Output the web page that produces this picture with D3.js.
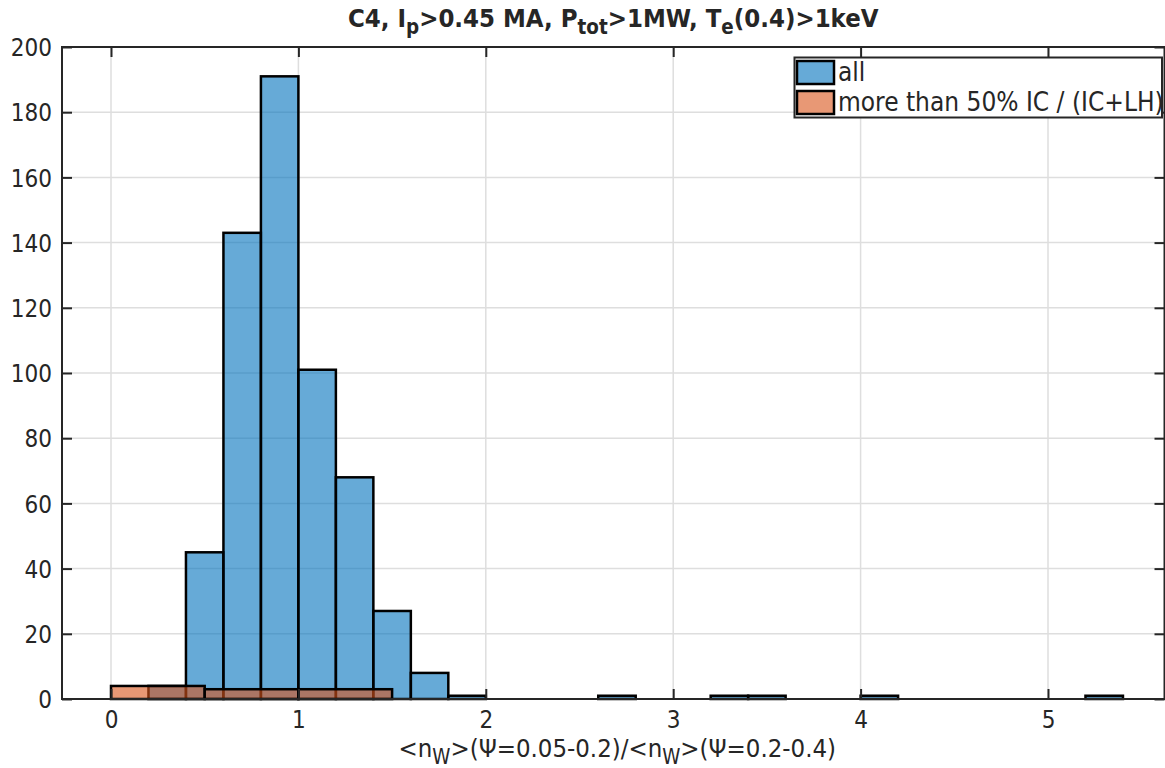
<!DOCTYPE html>
<html>
<head>
<meta charset="utf-8">
<script src="https://cdn.jsdelivr.net/npm/d3@7"></script>
<style>
  html, body { margin: 0; padding: 0; background: #fff; }
  svg { display: block; }
  text { font-family: "DejaVu Sans Condensed", "DejaVu Sans", sans-serif; font-stretch: condensed; fill: #262626; }
</style>
</head>
<body>
<svg id="chart" width="1165" height="768"></svg>
<script>
// ---- data ----
const binWidthAll = 0.2;
const binStartsAll = [0.2, 0.4, 0.6, 0.8, 1.0, 1.2, 1.4, 1.6, 1.8, 2.0, 2.2, 2.4, 2.6, 2.8, 3.0, 3.2, 3.4, 3.6, 3.8, 4.0, 4.2, 4.4, 4.6, 4.8, 5.0, 5.2];
const countsAll     = [4,   45,  143, 191, 101, 68,  27,  8,   1,   0,   0,   0,   1,   0,   0,   1,   1,   0,   0,   1,   0,   0,   0,   0,   0,   1];
const binWidthIC = 0.5;
const binStartsIC = [0.0, 0.5, 1.0];
const countsIC    = [4, 3, 3];
const xTicks = [0, 1, 2, 3, 4, 5];
const yTicks = [0, 20, 40, 60, 80, 100, 120, 140, 160, 180, 200];
const seriesNames = ["all", "more than 50% IC / (IC+LH)"];
const seriesColors = ["#0072BD", "#D95319"];

// ---- layout ----
const svg = d3.select("#chart");
const L = 62, R = 1164.5, T = 47, B = 699;
const x = d3.scaleLinear().domain([0, 5]).range([111, 1048]);
const xDom = [x.invert(L), x.invert(R)];
x.domain(xDom).range([L, R]);
const y = d3.scaleLinear().domain([0, 200]).range([B, T]);

// grid
const grid = svg.append("g");
grid.selectAll("line.gx").data(xTicks).join("line")
  .attr("x1", d => x(d)).attr("x2", d => x(d)).attr("y1", T).attr("y2", B)
  .attr("stroke", "#dedede").attr("stroke-width", 1.5);
grid.selectAll("line.gy").data(yTicks).join("line")
  .attr("y1", d => y(d)).attr("y2", d => y(d)).attr("x1", L).attr("x2", R)
  .attr("stroke", "#dedede").attr("stroke-width", 1.5);

// bars
function drawHist(starts, counts, w, color) {
  svg.append("g").selectAll("rect").data(starts.map((s, i) => ({s, c: counts[i]}))).join("rect")
    .attr("x", d => x(d.s)).attr("width", d => x(d.s + w) - x(d.s))
    .attr("y", d => y(d.c)).attr("height", d => y(0) - y(d.c))
    .attr("fill", color).attr("fill-opacity", 0.6)
    .attr("stroke", "#000").attr("stroke-width", 2.5);
}
drawHist(binStartsAll, countsAll, binWidthAll, seriesColors[0]);
drawHist(binStartsIC, countsIC, binWidthIC, seriesColors[1]);

// axes box + ticks
const ax = svg.append("g");
ax.append("rect").attr("x", L).attr("y", T).attr("width", R - L).attr("height", B - T)
  .attr("fill", "none").attr("stroke", "#262626").attr("stroke-width", 2);
const tl = 10;
const axB = d3.axisBottom(x).tickValues(xTicks).tickSizeInner(-tl).tickSizeOuter(0).tickPadding(12).tickFormat(d3.format("d"));
const axT = d3.axisTop(x).tickValues(xTicks).tickSizeInner(-tl).tickSizeOuter(0);
const axL = d3.axisLeft(y).tickValues(yTicks).tickSizeInner(-tl).tickSizeOuter(0).tickPadding(10).tickFormat(d3.format("d"));
const axR = d3.axisRight(y).tickValues(yTicks).tickSizeInner(-tl).tickSizeOuter(0);
function styleAxis(g) {
  g.select(".domain").remove();
  g.selectAll(".tick line").attr("stroke", "#262626").attr("stroke-width", 2);
  g.selectAll(".tick text").attr("fill", "#262626").style("font-size", "24px")
   .style("font-family", "'DejaVu Sans Condensed', 'DejaVu Sans', sans-serif");
}
function noLabels(g) { g.selectAll(".tick text").remove(); }
const gB = ax.append("g").attr("transform", `translate(0,${B})`).call(axB).call(styleAxis);
ax.append("g").attr("transform", `translate(0,${T})`).call(axT).call(styleAxis).call(noLabels);
const gL = ax.append("g").attr("transform", `translate(${L},0)`).call(axL).call(styleAxis);
ax.append("g").attr("transform", `translate(${R},0)`).call(axR).call(styleAxis).call(noLabels);
gB.selectAll(".tick text").attr("dy", "0.71em");
gL.selectAll(".tick text").attr("dy", "0.36em");

// text with subscripts
function addParts(t, parts, sub) {
  let pending = 0;
  parts.forEach(p => {
    const ts = t.append("tspan").text(p.t);
    if (p.sub) {
      ts.attr("dy", sub + pending).style("font-size", "0.8em");
      pending = -sub;
    } else {
      if (pending) ts.attr("dy", pending);
      pending = 0;
    }
  });
}

// title
const title = svg.append("text").attr("x", (L + R) / 2).attr("y", 27)
  .attr("text-anchor", "middle").style("font-size", "25.5px").style("font-weight", "bold").attr("fill", "#000");
addParts(title, [{t: "C4, I"}, {t: "p", sub: true}, {t: ">0.45 MA, P"}, {t: "tot", sub: true},
  {t: ">1MW, T"}, {t: "e", sub: true}, {t: "(0.4)>1keV"}], 7);

// x label
const xl = svg.append("text").attr("x", (L + R) / 2 + 4).attr("y", 757)
  .attr("text-anchor", "middle").style("font-size", "25.5px").attr("fill", "#262626");
addParts(xl, [{t: "<n"}, {t: "W", sub: true}, {t: ">(\u03A8=0.05-0.2)/<n"}, {t: "W", sub: true}, {t: ">(\u03A8=0.2-0.4)"}], 7);

// legend
const lg = svg.append("g");
lg.append("rect").attr("x", 794.5).attr("y", 57.5).attr("width", 367.5).attr("height", 60)
  .attr("fill", "#fff").attr("stroke", "#262626").attr("stroke-width", 2);
seriesNames.forEach((n, i) => {
  const yy = 61 + i * 30;
  lg.append("rect").attr("x", 797).attr("y", yy).attr("width", 37).attr("height", 23)
    .attr("fill", seriesColors[i]).attr("fill-opacity", 0.6).attr("stroke", "#000").attr("stroke-width", 2.5);
  lg.append("text").attr("x", 838).attr("y", yy + 20).style("font-size", "26px").attr("fill", "#000").text(n);
});
</script>
</body>
</html>
